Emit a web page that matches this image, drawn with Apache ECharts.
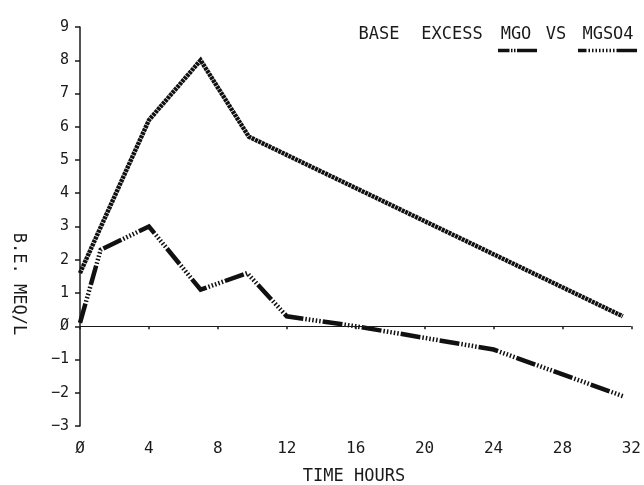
<!DOCTYPE html>
<html>
<head>
<meta charset="utf-8">
<script src="https://cdn.jsdelivr.net/npm/echarts@6/dist/echarts.min.js"></script>
<style>
html,body{margin:0;padding:0;background:#fff;}
#chart{width:644px;height:485px;}
</style>
</head>
<body>
<div id="chart"></div>
<script>
// Data
const mgoHours   = [0, 4, 7, 9.8, 31.5];
const mgoValues  = [1.6, 6.2, 8.0, 5.7, 0.3];
const mgso4Hours  = [0, 1.2, 4, 7, 9.7, 12, 16, 20, 24, 31.5];
const mgso4Values = [0.1, 2.3, 3.0, 1.1, 1.6, 0.3, 0.0, -0.35, -0.7, -2.1];
const xTicks = [0, 4, 8, 12, 16, 20, 24, 28, 32];
const yTicks = [-3, -2, -1, 0, 1, 2, 3, 4, 5, 6, 7, 8, 9];
const titleWords = ['BASE', 'EXCESS', 'MGO', 'VS', 'MGSO4'];
const xName = 'TIME HOURS';
const yName = 'B.E. MEQ/L';

const FONT = '"DejaVu Sans Mono", "Liberation Mono", monospace';
const INK = '#1a1a1a';

function pairs(xs, ys) { return xs.map((x, i) => [x, ys[i]]); }
function fmt(v) {
  if (v === 0) return '\u00D8';
  if (v < 0) return '\u2212' + Math.abs(v);
  return String(v);
}

const chart = echarts.init(document.getElementById('chart'), null, {renderer: 'canvas'});

const wordCenters = [379, 452, 516, 556, 608];

chart.setOption({
  animation: false,
  backgroundColor: '#fff',
  grid: {left: 80, right: 11, top: 27, bottom: 59, containLabel: false},
  xAxis: {
    type: 'value',
    min: xTicks[0], max: xTicks[xTicks.length - 1], interval: 4,
    axisLine: {show: false},
    axisTick: {show: true, length: 3, lineStyle: {color: INK, width: 1.5}},
    axisLabel: {fontFamily: FONT, fontSize: 16, color: INK, margin: 15, formatter: fmt},
    splitLine: {show: false}
  },
  yAxis: {
    type: 'value',
    min: yTicks[0], max: yTicks[yTicks.length - 1], interval: 1,
    axisLine: {show: true, onZero: false, lineStyle: {color: INK, width: 1.5}},
    axisTick: {show: true, length: 5, lineStyle: {color: INK, width: 1.5}},
    axisLabel: {fontFamily: FONT, fontSize: 15, color: INK, margin: 11, formatter: fmt},
    splitLine: {show: false}
  },
  series: [
    {
      name: 'MGO', type: 'line', data: pairs(mgoHours, mgoValues),
      showSymbol: false, symbol: 'none', silent: true,
      lineStyle: {color: '#111', width: 4.5, type: [3, 0.7], cap: 'butt', join: 'miter'},
      markLine: {
        silent: true, symbol: 'none', label: {show: false},
        lineStyle: {color: INK, width: 1.2, type: 'solid'},
        data: [{yAxis: 0}]
      },
      z: 3
    },
    {
      name: 'MGSO4', type: 'line', data: pairs(mgso4Hours, mgso4Values),
      showSymbol: false, symbol: 'none', silent: true,
      lineStyle: {color: '#111', width: 4.5, type: [20, 2, 1.5, 2, 1.5, 2, 1.5, 2, 1.5, 2, 1.5, 2], cap: 'butt', join: 'miter'},
      z: 3
    }
  ],
  graphic: [
    ...titleWords.map((w, i) => ({
      type: 'text', x: wordCenters[i], y: 35,
      style: {text: w, font: '17px ' + FONT, fill: INK, align: 'center', verticalAlign: 'middle'}
    })),
    // legend samples
    {type: 'line', shape: {x1: 498, y1: 50.5, x2: 508, y2: 50.5}, style: {stroke: '#111', lineWidth: 3.5}},
    {type: 'line', shape: {x1: 508, y1: 50.5, x2: 518, y2: 50.5}, style: {stroke: '#111', lineWidth: 3.5, lineDash: [1.5, 1.5]}},
    {type: 'line', shape: {x1: 518, y1: 50.5, x2: 537, y2: 50.5}, style: {stroke: '#111', lineWidth: 3.5}},
    {type: 'line', shape: {x1: 578, y1: 50.5, x2: 585, y2: 50.5}, style: {stroke: '#111', lineWidth: 3.5}},
    {type: 'line', shape: {x1: 585, y1: 50.5, x2: 617, y2: 50.5}, style: {stroke: '#111', lineWidth: 3.5, lineDash: [1.5, 2]}},
    {type: 'line', shape: {x1: 617, y1: 50.5, x2: 637, y2: 50.5}, style: {stroke: '#111', lineWidth: 3.5}},
    {
      type: 'text', x: 354, y: 477,
      style: {text: xName, font: '17px ' + FONT, fill: INK, align: 'center', verticalAlign: 'middle'}
    },
    {
      type: 'text', x: 18, y: 284, rotation: -Math.PI / 2,
      style: {text: yName, font: '17px ' + FONT, fill: INK, align: 'center', verticalAlign: 'middle'}
    }
  ]
});
</script>
</body>
</html>
